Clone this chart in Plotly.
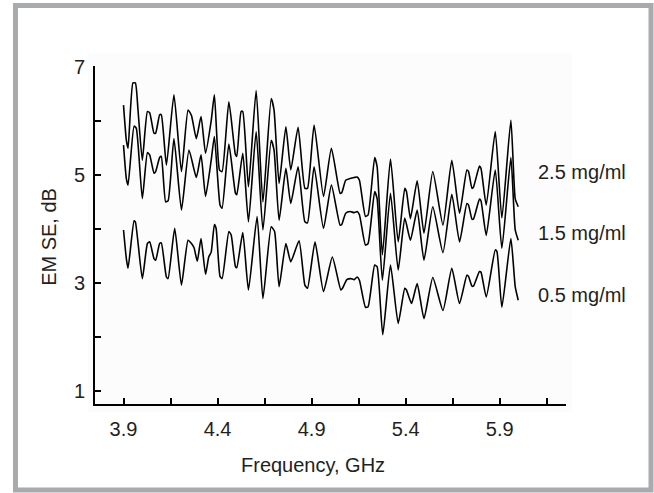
import plotly.graph_objects as go

# 2.5 mg/ml
x_25 = [3.900, 3.915, 3.924, 3.950, 3.963, 3.977, 4.000, 4.027, 4.039, 4.062, 4.071, 4.092, 4.101,
        4.128, 4.168, 4.208, 4.243, 4.261, 4.287, 4.312, 4.336, 4.366, 4.383, 4.410, 4.424, 4.460,
        4.495, 4.502, 4.525, 4.534, 4.564, 4.605, 4.641, 4.685, 4.700, 4.727, 4.763, 4.789, 4.828,
        4.864, 4.878, 4.913, 4.963, 5.005, 5.051, 5.060, 5.081, 5.104, 5.126, 5.142, 5.154, 5.186,
        5.200, 5.235, 5.248, 5.276, 5.319, 5.360, 5.395, 5.404, 5.425, 5.461, 5.497, 5.544, 5.598,
        5.645, 5.686, 5.725, 5.734, 5.752, 5.760, 5.792, 5.800, 5.828, 5.876, 5.911, 5.959, 5.982,
        5.998]
y_25 = [6.29, 5.64, 5.49, 6.70, 6.70, 6.20, 5.27, 6.17, 6.15, 5.77, 5.77, 6.11, 6.11,
        5.18, 6.48, 5.06, 6.20, 6.10, 5.67, 6.08, 5.40, 6.00, 6.48, 5.09, 5.06, 6.35,
        5.37, 5.34, 6.17, 6.17, 4.78, 6.56, 4.50, 6.41, 6.20, 4.84, 5.89, 5.09, 5.88,
        4.75, 4.75, 5.92, 4.60, 5.49, 4.66, 4.67, 4.90, 4.93, 4.95, 4.96, 4.90, 4.23,
        4.26, 5.32, 5.15, 3.52, 5.29, 3.76, 4.75, 4.69, 4.19, 4.89, 3.92, 5.06, 4.07,
        5.27, 4.29, 5.09, 5.06, 4.75, 4.77, 5.16, 5.12, 4.44, 5.80, 4.20, 6.01, 4.56,
        4.41]

# 1.5 mg/ml
x_15 = [3.900, 3.915, 3.924, 3.956, 3.968, 4.000, 4.027, 4.039, 4.062, 4.071, 4.092, 4.101, 4.124,
        4.137, 4.168, 4.208, 4.248, 4.287, 4.312, 4.336, 4.366, 4.383, 4.413, 4.424, 4.460, 4.495,
        4.502, 4.534, 4.564, 4.605, 4.641, 4.685, 4.700, 4.727, 4.763, 4.789, 4.828, 4.864, 4.878,
        4.913, 4.963, 5.005, 5.051, 5.060, 5.081, 5.104, 5.126, 5.142, 5.154, 5.186, 5.200, 5.235,
        5.248, 5.276, 5.319, 5.360, 5.395, 5.425, 5.461, 5.497, 5.544, 5.598, 5.645, 5.686, 5.725,
        5.734, 5.752, 5.760, 5.792, 5.800, 5.828, 5.876, 5.911, 5.959, 5.982, 5.998]
y_15 = [5.55, 4.93, 4.81, 5.90, 5.86, 4.56, 5.41, 5.37, 5.03, 5.06, 5.32, 5.34, 4.50,
        4.52, 5.67, 4.35, 5.46, 4.95, 5.37, 4.60, 5.27, 5.71, 4.44, 4.38, 5.57, 4.66,
        4.63, 5.40, 4.13, 5.80, 3.98, 5.64, 5.46, 4.16, 5.12, 4.47, 5.15, 4.13, 4.11,
        5.15, 4.01, 4.81, 4.07, 4.08, 4.29, 4.32, 4.30, 4.32, 4.26, 3.70, 3.73, 4.69,
        4.56, 3.05, 4.66, 3.24, 4.20, 3.79, 4.35, 3.42, 4.41, 3.56, 4.64, 3.76, 4.47,
        4.44, 4.18, 4.18, 4.55, 4.52, 3.88, 5.09, 3.64, 5.32, 3.98, 3.79]

# 0.5 mg/ml
x_05 = [3.900, 3.915, 3.924, 3.956, 3.963, 4.000, 4.027, 4.039, 4.062, 4.071, 4.092, 4.101, 4.128,
        4.137, 4.172, 4.208, 4.243, 4.261, 4.275, 4.292, 4.312, 4.336, 4.353, 4.366, 4.383, 4.392,
        4.413, 4.424, 4.460, 4.472, 4.495, 4.502, 4.534, 4.564, 4.610, 4.641, 4.685, 4.703, 4.727,
        4.763, 4.789, 4.833, 4.864, 4.878, 4.918, 4.963, 5.010, 5.055, 5.064, 5.087, 5.108, 5.126,
        5.142, 5.154, 5.186, 5.200, 5.235, 5.248, 5.278, 5.319, 5.360, 5.395, 5.404, 5.431, 5.461,
        5.497, 5.544, 5.598, 5.645, 5.686, 5.725, 5.734, 5.752, 5.760, 5.792, 5.800, 5.828, 5.876,
        5.885, 5.911, 5.959, 5.982, 5.998]
y_05 = [3.98, 3.45, 3.27, 4.15, 4.13, 3.08, 3.73, 3.76, 3.45, 3.42, 3.73, 3.74, 3.11,
        3.08, 4.01, 2.96, 3.79, 3.73, 3.65, 3.40, 3.82, 3.16, 3.48, 3.57, 4.08, 4.01,
        3.12, 3.08, 3.95, 3.89, 3.30, 3.28, 3.93, 2.87, 4.23, 2.71, 4.04, 3.95, 2.93,
        3.73, 3.39, 3.78, 2.96, 2.90, 3.76, 2.84, 3.48, 2.87, 2.90, 3.06, 3.08, 3.06,
        3.11, 3.05, 2.55, 2.56, 3.33, 3.30, 2.04, 3.33, 2.25, 2.90, 2.87, 2.62, 2.99,
        2.34, 3.10, 2.49, 3.27, 2.62, 3.14, 3.12, 2.94, 2.94, 3.21, 3.20, 2.74, 3.61,
        3.58, 2.55, 3.82, 2.93, 2.68]

series_names = ["2.5 mg/ml", "1.5 mg/ml", "0.5 mg/ml"]
label_y = [5.05, 3.92, 2.78]

x_tickvals = [3.9, 4.15, 4.4, 4.65, 4.9, 5.15, 5.4, 5.65, 5.9, 6.15]
x_ticktext = ["3.9", "", "4.4", "", "4.9", "", "5.4", "", "5.9", ""]
y_tickvals = [1, 2, 3, 4, 5, 6, 7]
y_ticktext = ["1", "", "3", "", "5", "", "7"]

FONT = "Liberation Sans, Arial, sans-serif"
TXT = "#231f20"

fig = go.Figure()
for xs, ys, nm in [(x_25, y_25, series_names[0]), (x_15, y_15, series_names[1]), (x_05, y_05, series_names[2])]:
    fig.add_trace(go.Scatter(x=xs, y=ys, mode="lines", name=nm,
                             line=dict(color="black", width=1.6, shape="spline", smoothing=0.5),
                             showlegend=False))

for nm, ly in zip(series_names, label_y):
    fig.add_annotation(x=0.936, xref="paper", y=ly, yref="y", text=nm, showarrow=False,
                       xanchor="left", yanchor="middle", font=dict(family=FONT, size=20, color=TXT))

fig.add_annotation(x=0.462, y=-0.180, xref="paper", yref="paper", text="Frequency, GHz",
                   showarrow=False, xanchor="center", yanchor="middle",
                   font=dict(family=FONT, size=20, color=TXT))
fig.add_annotation(x=-0.098, y=0.494, xref="paper", yref="paper", text="EM SE, dB",
                   showarrow=False, textangle=-90, xanchor="center", yanchor="middle",
                   font=dict(family=FONT, size=20, color=TXT))

# faint panel behind plot and gray frame
fig.add_shape(type="rect", xref="paper", yref="paper", x0=-0.0149, x1=1.0127, y0=-0.0237, y1=1.0385,
              fillcolor="#fcfcfc", line=dict(width=0), layer="below")
fig.add_shape(type="rect", xref="paper", yref="paper", x0=-0.1688, x1=1.1805, y0=-0.2544, y1=1.1790,
              fillcolor="rgba(0,0,0,0)", line=dict(color="#a9aaad", width=5), layer="above")

axis_common = dict(showline=True, linecolor="black", linewidth=1.8, ticks="inside", ticklen=6,
                   tickwidth=1.5, tickcolor="black", showgrid=False, zeroline=False, mirror=False,
                   automargin=False, tickfont=dict(family=FONT, size=20, color=TXT))

fig.update_xaxes(range=[3.7484, 6.252], tickmode="array", tickvals=x_tickvals, ticktext=x_ticktext,
                 ticklabelstandoff=6, **axis_common)
fig.update_yaxes(range=[0.76, 7.013], tickmode="array", tickvals=y_tickvals, ticktext=y_ticktext,
                 ticklabelstandoff=4, **axis_common)

fig.update_layout(width=654, height=493, margin=dict(l=95, r=88, t=66, b=89),
                  paper_bgcolor="white", plot_bgcolor="rgba(0,0,0,0)",
                  font=dict(family=FONT, color=TXT))

fig.write_html("out.html", config={"displayModeBar": False},
               post_script="document.body.style.margin='0';document.body.style.overflow='hidden';")
